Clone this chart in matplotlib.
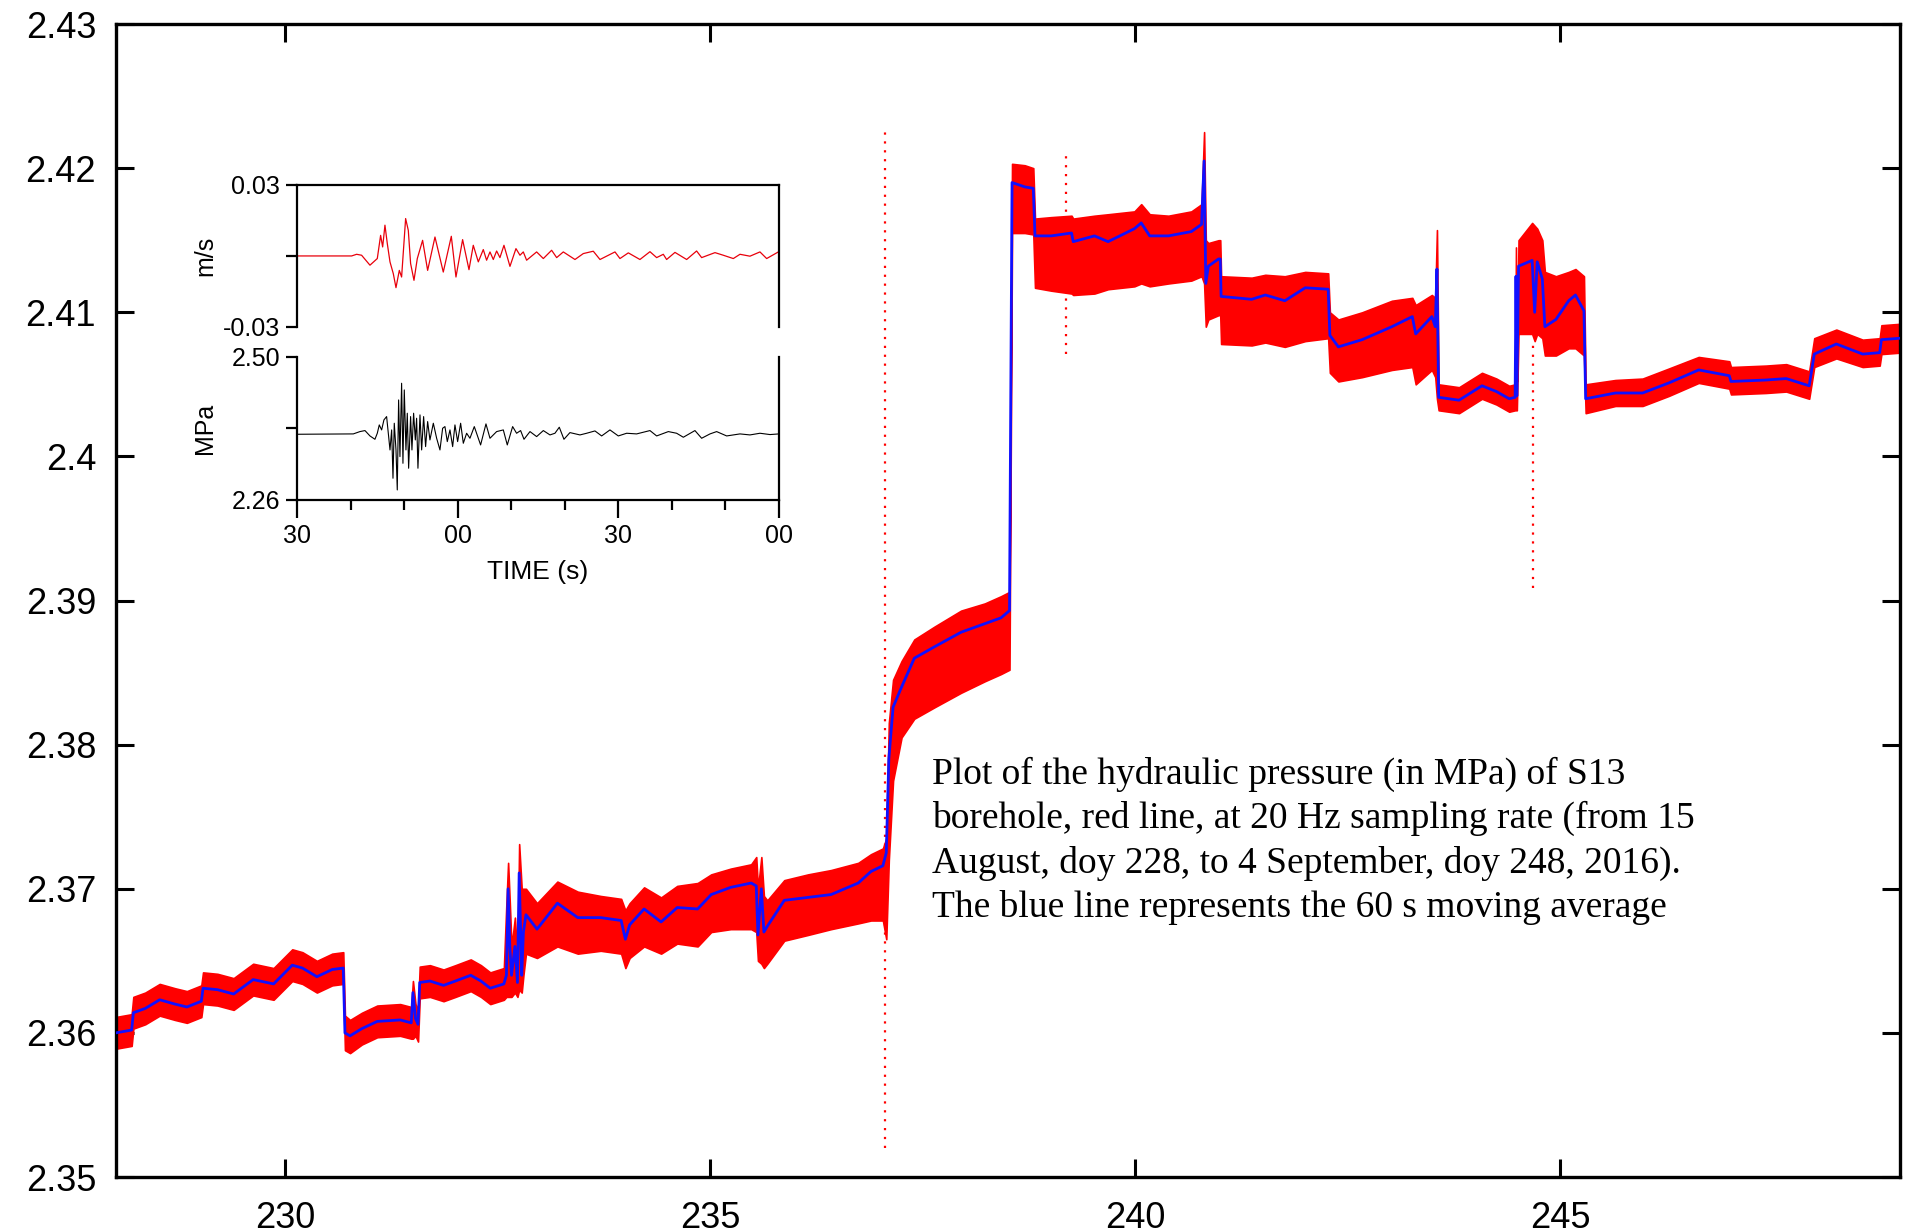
import matplotlib.pyplot as plt

# ---- main record: day of year, 60 s moving average and the envelope of the 20 Hz samples ----
day = [
    228.00, 228.19, 228.21, 228.35, 228.52, 228.70, 228.84, 229.01, 229.03, 229.20,
    229.39, 229.62, 229.86, 230.08, 230.20, 230.37, 230.55, 230.68,
    230.70, 230.76, 230.90, 231.08, 231.35, 231.48, 231.50, 231.53, 231.56, 231.58,
    231.70, 231.86, 232.00, 232.18, 232.30, 232.41, 232.57,
    232.60, 232.62, 232.64, 232.66, 232.70, 232.73, 232.75, 232.78, 232.80, 232.83, 232.96,
    233.20, 233.44, 233.71, 233.95, 234.00, 234.05, 234.22, 234.42, 234.61, 234.85,
    235.01, 235.24, 235.48, 235.54, 235.56, 235.60, 235.63, 235.67, 235.87, 236.15,
    236.42, 236.74, 236.89, 237.03,
    237.07, 237.10, 237.15, 237.25, 237.40, 237.64, 237.95, 238.23, 238.42, 238.52,
    238.55, 238.70, 238.80, 238.82, 239.01, 239.25, 239.27, 239.52, 239.68, 239.99,
    240.07, 240.17, 240.39, 240.66, 240.78, 240.81, 240.83, 240.86, 240.98, 241.00,
    241.01, 241.37, 241.53, 241.76, 242.00, 242.27, 242.29, 242.39, 242.67, 243.02,
    243.26, 243.30, 243.49, 243.53, 243.55,
    243.57, 243.81, 244.08, 244.25, 244.40, 244.47, 244.48, 244.49, 244.51, 244.67,
    244.70, 244.73, 244.79, 244.82, 244.95, 245.10, 245.18, 245.28,
    245.30, 245.65, 245.97, 246.28, 246.63, 246.99, 247.01, 247.42, 247.66, 247.93,
    247.99, 248.25, 248.56, 248.76, 248.78, 249.00,
]
avg = [
    2.3600, 2.3602, 2.3614, 2.3617, 2.3623, 2.3620, 2.3618, 2.3622, 2.3631, 2.3630,
    2.3627, 2.3637, 2.3634, 2.3647, 2.3645, 2.3639, 2.3644, 2.3645,
    2.3600, 2.3598, 2.3603, 2.3608, 2.3609, 2.3607, 2.3628, 2.3610, 2.3606, 2.3635,
    2.3636, 2.3633, 2.3636, 2.3640, 2.3636, 2.3631, 2.3634,
    2.3640, 2.3700, 2.3660, 2.3640, 2.3660, 2.3635, 2.3711, 2.3640, 2.3670, 2.3682, 2.3672,
    2.3690, 2.3680, 2.3680, 2.3678, 2.3665, 2.3675, 2.3686, 2.3677, 2.3687, 2.3686,
    2.3696, 2.3701, 2.3704, 2.3702, 2.3668, 2.3700, 2.3670, 2.3674, 2.3692, 2.3694,
    2.3696, 2.3704, 2.3712, 2.3716,
    2.3725, 2.3790, 2.3826, 2.3840, 2.3860, 2.3868, 2.3878, 2.3884, 2.3888, 2.3893,
    2.4190, 2.4187, 2.4186, 2.4153, 2.4153, 2.4155, 2.4149, 2.4153, 2.4149, 2.4158,
    2.4162, 2.4153, 2.4153, 2.4156, 2.4161, 2.4205, 2.4120, 2.4132, 2.4137, 2.4137,
    2.4111, 2.4109, 2.4112, 2.4108, 2.4117, 2.4116, 2.4084, 2.4076, 2.4081, 2.4090,
    2.4097, 2.4085, 2.4097, 2.4090, 2.4130,
    2.4041, 2.4039, 2.4049, 2.4045, 2.4040, 2.4041, 2.4125, 2.4042, 2.4132, 2.4136,
    2.4100, 2.4135, 2.4123, 2.4090, 2.4095, 2.4108, 2.4112, 2.4101,
    2.4040, 2.4044, 2.4044, 2.4051, 2.4060, 2.4056, 2.4052, 2.4053, 2.4054, 2.4049,
    2.4071, 2.4078, 2.4071, 2.4072, 2.4081, 2.4082,
]
hi = [
    2.3611, 2.3613, 2.3625, 2.3628, 2.3634, 2.3631, 2.3629, 2.3633, 2.3642, 2.3641,
    2.3638, 2.3648, 2.3645, 2.3658, 2.3656, 2.3650, 2.3655, 2.3656,
    2.3612, 2.3609, 2.3614, 2.3619, 2.3620, 2.3618, 2.3636, 2.3620, 2.3616, 2.3646,
    2.3647, 2.3644, 2.3647, 2.3651, 2.3647, 2.3642, 2.3645,
    2.3690, 2.3718, 2.3690, 2.3660, 2.3680, 2.3650, 2.3731, 2.3700, 2.3700, 2.3700, 2.3690,
    2.3705, 2.3698, 2.3695, 2.3693, 2.3685, 2.3690, 2.3701, 2.3694, 2.3702, 2.3704,
    2.3710, 2.3714, 2.3717, 2.3722, 2.3700, 2.3722, 2.3695, 2.3692, 2.3706, 2.3710,
    2.3713, 2.3718, 2.3724, 2.3728,
    2.3735, 2.3815, 2.3845, 2.3858, 2.3873, 2.3882, 2.3893, 2.3898, 2.3903, 2.3906,
    2.4203, 2.4202, 2.4200, 2.4165, 2.4166, 2.4167, 2.4165, 2.4167, 2.4168, 2.4170,
    2.4175, 2.4168, 2.4167, 2.4170, 2.4175, 2.4225, 2.4150, 2.4148, 2.4150, 2.4150,
    2.4125, 2.4124, 2.4126, 2.4125, 2.4128, 2.4127, 2.4100, 2.4095, 2.4100, 2.4108,
    2.4110, 2.4105, 2.4112, 2.4110, 2.4157,
    2.4050, 2.4048, 2.4058, 2.4054, 2.4049, 2.4050, 2.4145, 2.4052, 2.4150, 2.4162,
    2.4160, 2.4158, 2.4150, 2.4128, 2.4125, 2.4128, 2.4130, 2.4125,
    2.4050, 2.4053, 2.4054, 2.4061, 2.4069, 2.4066, 2.4062, 2.4063, 2.4064, 2.4059,
    2.4082, 2.4088, 2.4081, 2.4082, 2.4091, 2.4092,
]
lo = [
    2.3589, 2.3591, 2.3603, 2.3606, 2.3612, 2.3609, 2.3607, 2.3611, 2.3620, 2.3619,
    2.3616, 2.3626, 2.3623, 2.3636, 2.3634, 2.3628, 2.3633, 2.3634,
    2.3588, 2.3586, 2.3592, 2.3597, 2.3598, 2.3596, 2.3596, 2.3598, 2.3594, 2.3624,
    2.3625, 2.3622, 2.3625, 2.3629, 2.3625, 2.3620, 2.3623,
    2.3625, 2.3625, 2.3625, 2.3625, 2.3628, 2.3625, 2.3630, 2.3628, 2.3640, 2.3655, 2.3652,
    2.3660, 2.3655, 2.3657, 2.3655, 2.3645, 2.3652, 2.3660, 2.3655, 2.3662, 2.3660,
    2.3670, 2.3672, 2.3672, 2.3670, 2.3650, 2.3648, 2.3645, 2.3648, 2.3664, 2.3668,
    2.3672, 2.3676, 2.3678, 2.3678,
    2.3665, 2.3720, 2.3775, 2.3805, 2.3818, 2.3826, 2.3836, 2.3844, 2.3849, 2.3852,
    2.4155, 2.4155, 2.4154, 2.4117, 2.4115, 2.4113, 2.4112, 2.4113, 2.4116, 2.4118,
    2.4120, 2.4118, 2.4120, 2.4122, 2.4125, 2.4120, 2.4090, 2.4095, 2.4098, 2.4098,
    2.4078, 2.4077, 2.4079, 2.4076, 2.4080, 2.4082, 2.4058, 2.4052, 2.4055, 2.4060,
    2.4062, 2.4050, 2.4060, 2.4055, 2.4040,
    2.4032, 2.4030, 2.4040, 2.4036, 2.4031, 2.4032, 2.4032, 2.4032, 2.4085, 2.4085,
    2.4080, 2.4085, 2.4082, 2.4070, 2.4070, 2.4075, 2.4075, 2.4070,
    2.4030, 2.4035, 2.4035, 2.4042, 2.4051, 2.4047, 2.4043, 2.4044, 2.4045, 2.4040,
    2.4062, 2.4068, 2.4062, 2.4063, 2.4071, 2.4072,
]

# isolated spikes of the raw record (drawn as dotted vertical streaks)
spike_day = [237.05, 239.19, 244.68]
spike_lo = [2.3520, 2.4071, 2.3909]
spike_hi = [2.4229, 2.4209, 2.4081]

# ---- inset: seismometer velocity (m/s) and pressure (MPa) during the event ----
vel_t = [0, 10.21, 11.14, 12.07, 13.63, 15.0, 15.62, 16.0, 16.43, 16.87, 17.37, 17.99,
         18.49, 19.11, 19.54, 20.29, 20.79, 21.22, 21.85, 22.47, 23.46, 24.40, 25.77,
         27.32, 28.82, 29.69, 30.93, 32.12, 32.92, 33.86, 34.79, 35.41, 36.04, 36.66,
         37.28, 37.90, 38.65, 39.77, 40.89, 41.64, 42.26, 42.88, 44.75, 46.0, 47.55,
         48.49, 49.73, 51.91, 53.46, 55.33, 56.58, 59.38, 60.31, 61.87, 64.04, 65.91,
         67.16, 68.40, 69.02, 70.58, 72.76, 74.62, 75.56, 78.05, 79.60, 81.47, 82.72,
         84.58, 86.45, 87.70, 89.88]
vel_v = [0, 0, 0.0007, 0.0003, -0.0039, -0.0011, 0.0087, 0.0038, 0.0130, 0.0052, -0.0025,
         -0.0075, -0.0134, -0.0061, -0.0089, 0.0158, 0.0108, -0.0032, -0.0103, -0.0011,
         0.0066, -0.0061, 0.0080, -0.0068, 0.0083, -0.0089, 0.0069, -0.0058, 0.0045,
         -0.0025, 0.0027, -0.0018, 0.0017, -0.0015, 0.0021, -0.0007, 0.0045, -0.0044,
         0.0031, 0.0003, 0.0017, -0.0018, 0.0017, -0.0011, 0.0024, -0.0007, 0.0017,
         -0.0015, 0.0010, 0.0020, -0.0015, 0.0017, -0.0011, 0.0013, -0.0015, 0.0018,
         -0.0007, 0.0007, -0.0015, 0.0015, -0.0015, 0.0021, -0.0007, 0.0014, 0.0003,
         -0.0011, 0.0007, -0.0001, 0.0017, -0.0011, 0.0017]

prs_t = [0, 10.52, 11.76, 12.70, 13.63, 14.56, 15.00, 15.37, 15.81, 16.24, 16.74, 17.12,
         17.37, 17.68, 17.93, 18.17, 18.49, 18.73, 18.98, 19.23, 19.54, 19.79, 20.04,
         20.35, 20.60, 20.85, 21.22, 21.47, 21.78, 22.10, 22.34, 22.59, 22.97, 23.28,
         23.65, 24.02, 24.40, 24.83, 25.46, 26.08, 26.70, 27.20, 27.63, 28.07, 28.57,
         29.07, 29.50, 30.00, 30.56, 31.06, 31.68, 32.30, 33.11, 33.86, 34.29, 35.29,
         36.04, 37.28, 38.53, 39.27, 40.27, 41.01, 41.76, 42.39, 43.51, 44.75, 46.00,
         47.24, 48.17, 48.98, 49.85, 50.97, 52.84, 54.09, 55.64, 56.89, 58.44, 60.00,
         61.56, 63.42, 65.91, 67.16, 69.34, 70.89, 72.14, 74.31, 75.56, 77.12, 78.36,
         80.23, 82.72, 84.58, 86.45, 88.32, 90.0]
prs_v = [2.3702, 2.3708, 2.3747, 2.3764, 2.3674, 2.3618, 2.3719, 2.3859, 2.3775, 2.3943,
         2.3999, 2.3663, 2.3439, 2.3775, 2.2964, 2.3887, 2.3439, 2.2768, 2.4278, 2.3327,
         2.4558, 2.3215, 2.4446, 2.3439, 2.4055, 2.3132, 2.3999, 2.3439, 2.4055, 2.3607,
         2.3971, 2.3132, 2.4027, 2.3439, 2.3999, 2.3495, 2.3915, 2.3607, 2.3887, 2.3635,
         2.3439, 2.3803, 2.3831, 2.3579, 2.3775, 2.3495, 2.3859, 2.3579, 2.3887, 2.3551,
         2.3719, 2.3635, 2.3831, 2.3635, 2.3523, 2.3876, 2.3635, 2.3747, 2.3775, 2.3523,
         2.3831, 2.3719, 2.3764, 2.3618, 2.3747, 2.3663, 2.3764, 2.3691, 2.3719, 2.3820,
         2.3618, 2.3730, 2.3691, 2.3719, 2.3758, 2.3674, 2.3775, 2.3674, 2.3719, 2.3708,
         2.3764, 2.3674, 2.3747, 2.3719, 2.3652, 2.3764, 2.3635, 2.3708, 2.3747, 2.3674,
         2.3708, 2.3691, 2.3719, 2.3697, 2.3708]

main_yticks = [2.35, 2.36, 2.37, 2.38, 2.39, 2.40, 2.41, 2.42, 2.43]
main_ylabels = ['2.35', '2.36', '2.37', '2.38', '2.39', '2.4', '2.41', '2.42', '2.43']
main_xticks = [230, 235, 240, 245]

note = ("Plot of the hydraulic pressure (in MPa) of S13\n"
        "borehole, red line, at 20 Hz sampling rate (from 15\n"
        "August, doy 228, to 4 September, doy 248, 2016).\n"
        "The blue line represents the 60 s moving average")

SANS = 'Liberation Sans'
SERIF = 'Liberation Serif'

fig = plt.figure(figsize=(19.06, 12.32), dpi=100)

# main panel
ax = fig.add_axes([0.0606, 0.0446, 0.9363, 0.9359])
ax.fill_between(day, lo, hi, color='#ff0000', edgecolor='#ff0000', linewidth=1.2, zorder=2)
ax.vlines(spike_day, spike_lo, spike_hi, colors='#ff0000', linestyles=(0, (1, 3)),
          linewidth=1.6, zorder=2)
ax.plot(day, avg, color='#1010ff', linewidth=2.0, zorder=3)
ax.set_xlim(228, 249)
ax.set_ylim(2.35, 2.43)
ax.set_xticks(main_xticks)
ax.set_yticks(main_yticks)
ax.set_yticklabels(main_ylabels)
ax.tick_params(direction='in', top=True, right=True, length=13, width=2.2,
               labelsize=26)
ax.tick_params(axis='x', pad=17)
ax.tick_params(axis='y', pad=14)
for lab in ax.get_xticklabels() + ax.get_yticklabels():
    lab.set_fontfamily(SANS)
for sp in ax.spines.values():
    sp.set_linewidth(2.4)

fig.text(0.489, 0.386, note, va='top', ha='left', fontsize=27, family=SERIF,
         linespacing=1.34)

# inset, velocity
ax_v = fig.add_axes([0.1558, 0.7346, 0.2529, 0.1153])
ax_v.plot(vel_t, vel_v, color='#e8000b', linewidth=0.9)
ax_v.set_xlim(0, 90)
ax_v.set_ylim(-0.03, 0.03)
ax_v.set_xticks([])
ax_v.set_yticks([-0.03, 0, 0.03])
ax_v.set_yticklabels(['-0.03', '', '0.03'])
ax_v.spines['bottom'].set_visible(False)
ax_v.set_ylabel('m/s', fontsize=18, family=SANS)
ax_v.yaxis.set_label_coords(-0.165, 0.5)

# inset, pressure
ax_p = fig.add_axes([0.1558, 0.5942, 0.2529, 0.1161])
ax_p.plot(prs_t, prs_v, color='black', linewidth=0.8)
ax_p.set_xlim(0, 90)
ax_p.set_ylim(2.26, 2.50)
ax_p.set_yticks([2.26, 2.38, 2.50])
ax_p.set_yticklabels(['2.26', '', '2.50'])
ax_p.set_xticks([0, 30, 60, 90])
ax_p.set_xticklabels(['30', '00', '30', '00'])
ax_p.set_xticks([10, 20, 40, 50, 70, 80], minor=True)
ax_p.spines['top'].set_visible(False)
ax_p.set_ylabel('MPa', fontsize=18, family=SANS)
ax_p.yaxis.set_label_coords(-0.165, 0.5)
ax_p.set_xlabel('TIME (s)', fontsize=19, family=SANS)
ax_p.xaxis.set_label_coords(0.5, -0.42)

for a in (ax_v, ax_p):
    for sp in a.spines.values():
        sp.set_linewidth(1.6)
    a.tick_params(which='major', direction='out', length=8, width=1.6, labelsize=18, pad=4)
    for lab in a.get_xticklabels() + a.get_yticklabels():
        lab.set_fontfamily(SANS)
ax_p.tick_params(axis='x', which='major', length=13)
ax_p.tick_params(axis='x', which='minor', direction='out', length=7, width=1.6)

fig.savefig('out.png', dpi=100)
